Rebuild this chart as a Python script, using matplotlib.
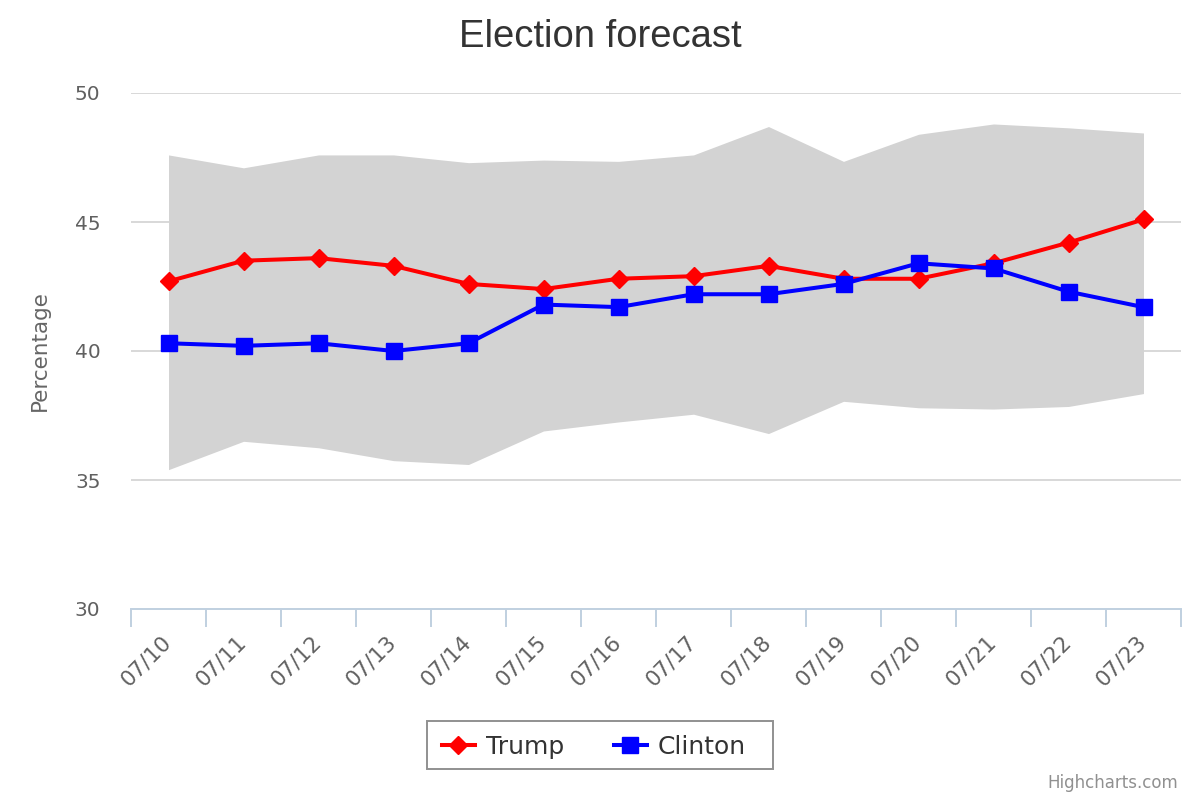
import matplotlib
matplotlib.use("Agg")
import matplotlib.pyplot as plt
import matplotlib.transforms as mtransforms
from matplotlib.patches import Rectangle
from matplotlib.ticker import FixedLocator

dates = ["07/10", "07/11", "07/12", "07/13", "07/14", "07/15", "07/16",
         "07/17", "07/18", "07/19", "07/20", "07/21", "07/22", "07/23"]
trump = [42.7, 43.5, 43.6, 43.3, 42.6, 42.4, 42.8, 42.9, 43.3, 42.8, 42.8, 43.4, 44.2, 45.1]
clinton = [40.3, 40.2, 40.3, 40.0, 40.3, 41.8, 41.7, 42.2, 42.2, 42.6, 43.4, 43.2, 42.3, 41.7]
range_high = [47.6, 47.1, 47.6, 47.6, 47.3, 47.4, 47.35, 47.6, 48.7, 47.35, 48.4, 48.8, 48.65, 48.45]
range_low = [35.4, 36.5, 36.25, 35.75, 35.6, 36.9, 37.25, 37.55, 36.8, 38.05, 37.8, 37.75, 37.85, 38.35]
y_ticks = [30, 35, 40, 45, 50]

W, H = 1200, 800
fig = plt.figure(figsize=(12, 8), dpi=100)
ax = fig.add_axes([131 / W, 1 - 609 / H, 1050 / W, 516 / H])

x = list(range(len(dates)))
ax.fill_between(x, range_low, range_high, color="#D3D3D3", lw=0, zorder=1)
ax.plot(x, trump, color="#FF0000", lw=2.9, marker="D", ms=9, zorder=3, label="Trump")
ax.plot(x, clinton, color="#0000FF", lw=2.9, marker="s", ms=11.5, zorder=3, label="Clinton")

ax.set_xlim(-0.5, len(dates) - 0.5)
ax.set_ylim(30, 50)

# gridlines under the range area
for y in y_ticks[1:]:
    ax.axhline(y, color="#D8D8D8", lw=1.4, zorder=0)

for s in ["top", "right", "left"]:
    ax.spines[s].set_visible(False)
ax.spines["bottom"].set_color("#C0D0E0")
ax.spines["bottom"].set_linewidth(1.4)
ax.spines["bottom"].set_zorder(0)

ax.set_yticks(y_ticks)
ax.set_yticklabels([str(v) for v in y_ticks])
ax.tick_params(axis="y", length=0, pad=22, labelsize=14.5, labelcolor="#606060")

# ticks on category boundaries, labels drawn as text at category centres
ax.set_xticks([])
ax.xaxis.set_minor_locator(FixedLocator([i - 0.5 for i in range(len(dates) + 1)]))
ax.tick_params(axis="x", which="minor", length=13, width=1.4, color="#C0D0E0")
lab_trans = ax.get_xaxis_transform() + mtransforms.ScaledTranslation(-7 / 100, -23 / 100, fig.dpi_scale_trans)
for i, d in enumerate(dates):
    ax.text(i, 0, d, transform=lab_trans, rotation=45, rotation_mode="anchor",
            ha="right", va="top", fontsize=15.5, color="#606060")

fig.text(0.5, 1 - 47 / H, "Election forecast", ha="center", va="baseline",
         fontsize=27.5, color="#333333", family=["Liberation Sans", "DejaVu Sans"])
fig.text(40 / W, 1 - 351 / H, "Percentage", rotation=90, ha="center", va="center",
         fontsize=15.5, color="#666666")
fig.text(1178 / W, 1 - 788 / H, "Highcharts.com", ha="right", va="baseline",
         fontsize=12, color="#909090")

# legend box drawn separately, the items are a frameless legend
fig.patches.append(Rectangle((427 / W, 1 - 769 / H), 346 / W, 48 / H,
                             transform=fig.transFigure, facecolor="white",
                             edgecolor="#909090", lw=1.4, zorder=0))
leg = fig.legend(loc="center", bbox_to_anchor=(594 / W, 1 - 747 / H), ncol=2,
                 fontsize=18, frameon=False, handlelength=1.3,
                 handletextpad=0.45, columnspacing=2.0, borderpad=0.3)
for t in leg.get_texts():
    t.set_color("#333333")

fig.savefig("out.png", dpi=100)
